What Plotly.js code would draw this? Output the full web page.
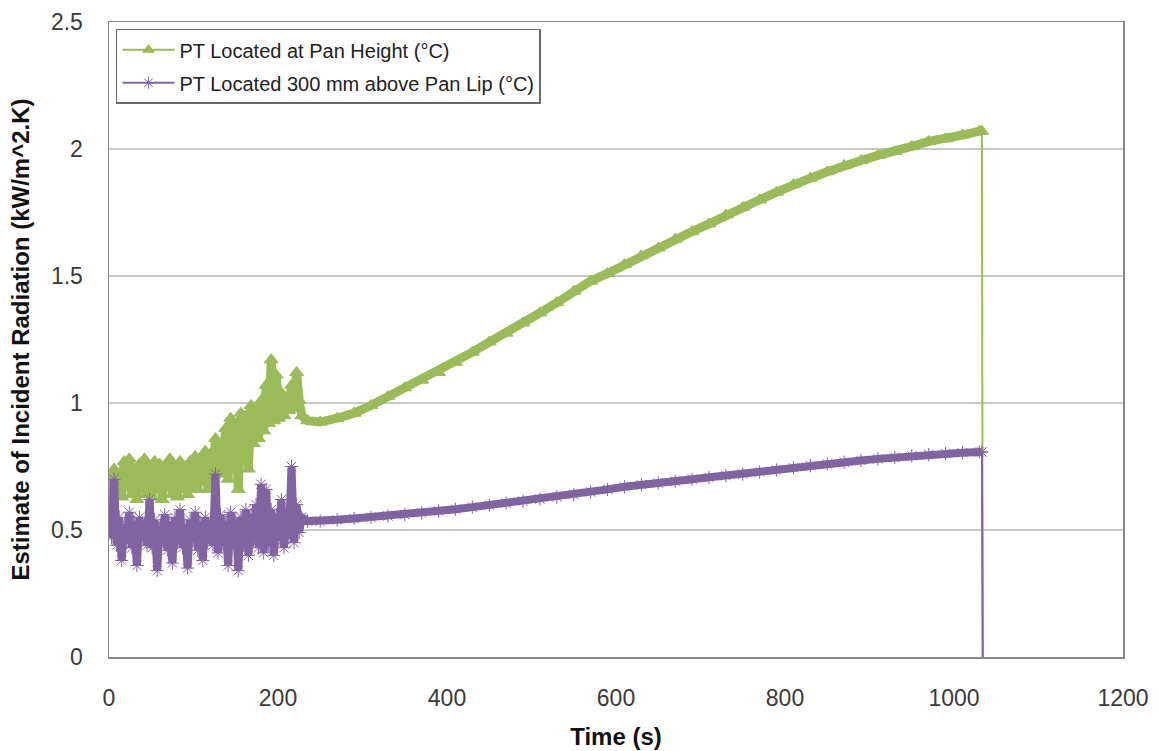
<!DOCTYPE html>
<html>
<head>
<meta charset="utf-8">
<script src="https://cdn.plot.ly/plotly-3.0.1.min.js"></script>
<style>html,body{margin:0;padding:0;background:#fff;}#chart{width:1159px;height:751px;}</style>
</head>
<body>
<div id="chart"></div>
<script>
// Time (s)
const time = [3,6,9,12,15,18,21,24,27,30,33,36,39,42,45,48,51,54,57,60,63,66,69,72,75,78,81,84,87,90,93,96,99,102,105,108,111,114,117,120,123,126,129,132,135,138,141,144,147,150,153,156,159,162,165,168,171,174,177,180,183,186,189,192,195,198,201,204,207,210,213,216,219,222,225,228,
  235,250,270,290,310,330,350,370,390,410,430,450,470,490,510,530,550,570,590,610,630,650,670,690,710,730,750,770,790,810,830,850,870,890,910,930,950,970,990,1010,1030,1033,1034];

// PT Located at Pan Height
const panHeight = [0.60,0.74,0.65,0.72,0.63,0.77,0.67,0.78,0.64,0.74,0.62,0.76,0.66,0.78,0.64,0.73,0.63,0.77,0.66,0.76,0.62,0.75,0.67,0.78,0.64,0.75,0.63,0.77,0.66,0.75,0.64,0.77,0.67,0.79,0.66,0.78,0.69,0.81,0.66,0.80,0.70,0.86,0.72,0.84,0.73,0.90,0.70,0.94,0.76,0.91,0.66,0.96,0.80,0.95,0.74,0.99,0.84,0.97,0.86,1.01,0.89,1.07,0.92,1.17,0.93,1.11,0.94,1.04,0.95,1.02,0.97,1.07,0.98,1.12,1.01,0.95,
  0.93,0.925,0.94,0.96,0.99,1.025,1.06,1.09,1.12,1.16,1.20,1.24,1.275,1.315,1.355,1.395,1.44,1.48,1.51,1.545,1.58,1.61,1.645,1.675,1.705,1.74,1.77,1.80,1.83,1.86,1.885,1.91,1.935,1.955,1.975,1.99,2.01,2.03,2.04,2.055,2.07,2.07,0];

// PT Located 300 mm above Pan Lip
const aboveLip = [0.47,0.70,0.44,0.55,0.38,0.52,0.45,0.57,0.43,0.53,0.36,0.55,0.46,0.52,0.44,0.62,0.43,0.54,0.34,0.51,0.46,0.56,0.42,0.53,0.37,0.55,0.45,0.58,0.43,0.52,0.35,0.54,0.46,0.57,0.42,0.53,0.38,0.55,0.45,0.52,0.44,0.72,0.41,0.56,0.44,0.53,0.36,0.57,0.45,0.54,0.34,0.55,0.44,0.58,0.40,0.56,0.46,0.60,0.43,0.68,0.41,0.66,0.44,0.58,0.40,0.56,0.46,0.62,0.43,0.57,0.47,0.75,0.45,0.60,0.49,0.55,
  0.535,0.535,0.54,0.545,0.55,0.555,0.56,0.567,0.575,0.582,0.59,0.598,0.606,0.614,0.622,0.63,0.64,0.65,0.66,0.67,0.678,0.685,0.692,0.70,0.707,0.714,0.72,0.728,0.736,0.745,0.753,0.76,0.767,0.774,0.78,0.786,0.792,0.797,0.801,0.804,0.807,0.807,0];

const names = ['PT Located at Pan Height (°C)', 'PT Located 300 mm above Pan Lip (°C)'];
const colors = ['#9BBB59', '#8064A2'];
const xTicks = [0,200,400,600,800,1000,1200];
const yTicks = [0,0.5,1,1.5,2,2.5];

const n = time.length;
function mainTrace(y, i, sym, msize, lw){
  return {
    x: time.slice(0, n-1), y: y.slice(0, n-1), type: 'scatter', mode: 'lines+markers',
    name: names[i], showlegend: false, legendgroup: 'g'+i,
    line: {color: colors[i], width: lw},
    marker: {symbol: sym, size: msize, color: colors[i], line: {color: colors[i], width: 1}},
    hoverinfo: 'x+y'
  };
}
function dropTrace(y, i, sym, msize){
  return {
    x: time.slice(n-2), y: y.slice(n-2), type: 'scatter', mode: 'lines+markers',
    name: names[i], showlegend: true, legendgroup: 'g'+i,
    line: {color: colors[i], width: 2},
    marker: {symbol: [sym, 'line-ns-open'], size: msize, color: colors[i], line: {color: colors[i], width: 1}},
    hoverinfo: 'x+y'
  };
}

const data = [
  mainTrace(panHeight, 0, 'triangle-up', 12, 9),
  mainTrace(aboveLip, 1, 'asterisk-open', 11, 8),
  dropTrace(panHeight, 0, 'triangle-up', 10),
  dropTrace(aboveLip, 1, 'asterisk-open', 10)
];

const tickFont = {family: 'Liberation Sans, Arial, sans-serif', size: 23, color: '#3a3a3a'};
const titleFont = {family: 'Liberation Sans, Arial, sans-serif', size: 24, color: '#111', weight: 'bold'};

const layout = {
  width: 1159, height: 751,
  margin: {l: 109, r: 36, t: 22, b: 94},
  paper_bgcolor: '#fff', plot_bgcolor: '#fff',
  showlegend: true,
  legend: {
    x: 0.0069, y: 0.9894, xanchor: 'left', yanchor: 'top',
    bgcolor: '#fff', bordercolor: '#6a6a6a', borderwidth: 1.5,
    font: {family: 'Liberation Sans, Arial, sans-serif', size: 20, color: '#222'},
    itemwidth: 52, traceorder: 'grouped', tracegroupgap: 4
  },
  xaxis: {
    range: [0, 1200], tickvals: xTicks, ticktext: xTicks.map(String),
    showgrid: false, zeroline: false, showline: true, mirror: true,
    linecolor: '#888', linewidth: 1.5, ticks: '', ticklabelstandoff: 20,
    tickfont: tickFont,
    title: {text: 'Time (s)', font: titleFont, standoff: 18}
  },
  yaxis: {
    range: [0, 2.5], tickvals: yTicks, ticktext: yTicks.map(String),
    showgrid: true, gridcolor: '#c8c8c8', gridwidth: 1.5, zeroline: false,
    showline: true, mirror: true, linecolor: '#888', linewidth: 1.5, ticks: '',
    ticklabelstandoff: 20, tickfont: tickFont,
    title: {text: 'Estimate of Incident Radiation (kW/m^2.K)', font: titleFont, standoff: 14}
  }
};

Plotly.newPlot('chart', data, layout, {displayModeBar: false, staticPlot: true});
</script>
</body>
</html>
